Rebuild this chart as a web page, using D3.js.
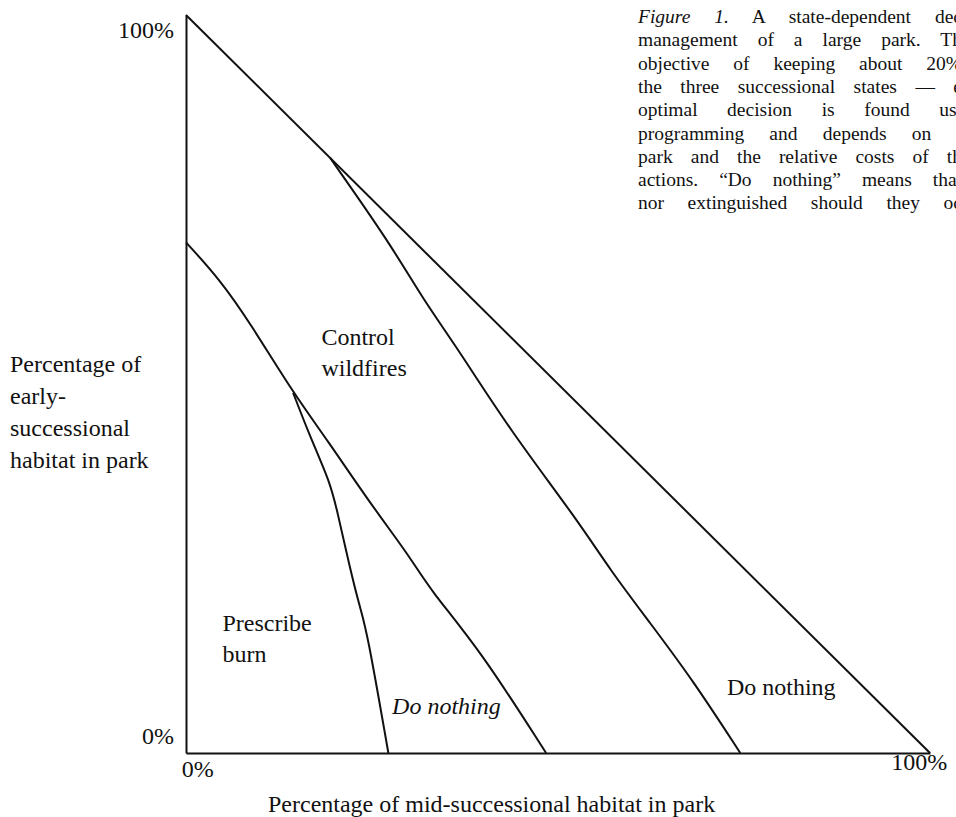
<!DOCTYPE html>
<html>
<head>
<meta charset="utf-8">
<script src="https://cdn.jsdelivr.net/npm/d3@7"></script>
<style>
    body { margin: 0; background: #fff; }
    svg { display: block; }
    text { font-family: "Liberation Serif", "Times New Roman", serif; fill: #111; }
</style>
</head>
<body>
<div class="chart"></div>
<script>
// percent of mid-successional habitat (x) vs early-successional habitat (y)
const axisTicks = [0, 100];

const hypotenuse = [[0, 100], [100, 0]];

// boundary between "Control wildfires" and the right "Do nothing" region
const upperBoundary = [[19.4, 80.6], [27.4, 69.1], [31.9, 61.4], [36.4, 55.0], [43.5, 43.8],
    [52.6, 31.6], [57.0, 24.8], [62.4, 17.6], [68.1, 9.9], [74.5, 0]];

// boundary under "Control wildfires"
const lowerBoundary = [[0, 69.2], [4.6, 64.1], [8.6, 58.3], [14.4, 48.8], [19.0, 42.4],
    [24.7, 33.9], [30.1, 26.6], [32.8, 22.1], [39.5, 14.0], [48.4, 0]];

// curve between "Prescribe burn" and the italic "Do nothing"
const burnBoundary = [[14.4, 48.8], [16.7, 42.8], [19.4, 36.6], [20.3, 32.9], [22.0, 25.2],
    [23.4, 19.6], [24.3, 16.7], [27.2, 0]];

const regionLabels = [
    {lines: ["Control", "wildfires"], x: 18.2, y: 55.3, italic: false},
    {lines: ["Prescribe", "burn"], x: 4.9, y: 16.5, italic: false},
    {lines: ["Do nothing"], x: 27.7, y: 5.3, italic: true},
    {lines: ["Do nothing"], x: 72.7, y: 7.9, italic: false}
];

const yTitle = ["Percentage of", "early-", "successional", "habitat in park"];
const xTitle = "Percentage of mid-successional habitat in park";

const caption = [
    ["Figure 1.", " A state-dependent dec"],
    ["", "management of a large park. Th"],
    ["", "objective of keeping about 20%"],
    ["", "the three successional states — e"],
    ["", "optimal decision is found usi"],
    ["", "programming and depends on t"],
    ["", "park and the relative costs of th"],
    ["", "actions. “Do nothing” means that"],
    ["", "nor extinguished should they oc"]
];

const width = 956, height = 817;
const fontSize = 24;

const svg = d3.select(".chart").append("svg")
    .attr("width", width)
    .attr("height", height)
    .attr("viewBox", [0, 0, width, height]);

const x = d3.scaleLinear().domain([0, 100]).range([186, 930]);
const y = d3.scaleLinear().domain([0, 100]).range([753, 15]);

function drawAxes() {
    const pct = d => d + "%";

    svg.append("g")
        .attr("transform", `translate(${x(0)},0)`)
        .call(d3.axisLeft(y).tickValues(axisTicks).tickSize(0).tickPadding(12).tickFormat(pct))
        .call(g => g.select(".domain").attr("stroke", "#111").attr("stroke-width", 2))
        .call(g => g.selectAll(".tick text")
            .attr("font-size", fontSize)
            .attr("font-family", null)
            .attr("dy", d => d === 0 ? "-0.4em" : "0.95em"));

    svg.append("g")
        .attr("transform", `translate(0,${y(0)})`)
        .call(d3.axisBottom(x).tickValues(axisTicks).tickSize(0).tickPadding(6).tickFormat(pct))
        .call(g => g.select(".domain").attr("stroke", "#111").attr("stroke-width", 2))
        .call(g => g.selectAll(".tick text")
            .attr("font-size", fontSize)
            .attr("font-family", null)
            .attr("text-anchor", d => d === 0 ? "start" : "end")
            .attr("dx", d => d === 0 ? "-0.2em" : "0.7em")
            .attr("dy", d => d === 0 ? "0.75em" : "0.45em"));
}

function drawBoundaries() {
    const straight = d3.line().x(d => x(d[0])).y(d => y(d[1]));
    const smooth = d3.line().x(d => x(d[0])).y(d => y(d[1])).curve(d3.curveBasis);

    [[hypotenuse, straight], [upperBoundary, smooth], [lowerBoundary, smooth], [burnBoundary, smooth]]
        .forEach(([pts, gen]) => {
            svg.append("path")
                .attr("d", gen(pts))
                .attr("fill", "none")
                .attr("stroke", "#111")
                .attr("stroke-width", 2)
                .attr("stroke-linejoin", "round");
        });
}

function drawLabels() {
    regionLabels.forEach(l => {
        const t = svg.append("text")
            .attr("x", x(l.x))
            .attr("y", y(l.y))
            .attr("font-size", fontSize)
            .attr("font-style", l.italic ? "italic" : "normal");
        l.lines.forEach((s, i) => {
            t.append("tspan").attr("x", x(l.x)).attr("dy", i === 0 ? 0 : 31).text(s);
        });
    });

    const yt = svg.append("text").attr("x", 10).attr("y", 372).attr("font-size", fontSize);
    yTitle.forEach((s, i) => {
        yt.append("tspan").attr("x", 10).attr("dy", i === 0 ? 0 : 32).text(s);
    });

    svg.append("text")
        .attr("x", 268)
        .attr("y", 812)
        .attr("font-size", fontSize)
        .text(xTitle);
}

function drawCaption() {
    const left = 638, right = 962, top = 23, step = 23.3;
    caption.forEach(([lead, rest], i) => {
        const t = svg.append("text")
            .attr("x", left)
            .attr("y", top + i * step)
            .attr("font-size", 19.5);
        if (lead) t.append("tspan").attr("font-style", "italic").text(lead);
        t.append("tspan").text(rest);
        // justify like the printed caption
        const spaces = (lead + rest).split(" ").length - 1;
        const extra = right - left - t.node().getComputedTextLength();
        if (spaces > 0 && extra > 0) t.attr("word-spacing", extra / spaces);
    });
}

drawAxes();
drawBoundaries();
drawLabels();
drawCaption();
</script>
</body>
</html>
